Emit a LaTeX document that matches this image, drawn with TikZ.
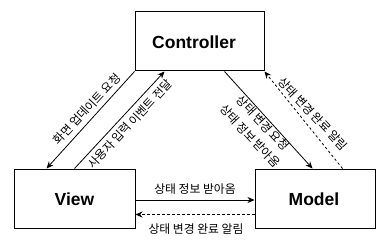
\documentclass[tikz,border=0pt]{standalone}
\usepackage{fontspec}
\setmainfont{Liberation Sans}
\newfontfamily\kr{Noto Sans CJK KR}
\usetikzlibrary{arrows.meta}
\begin{document}
\begin{tikzpicture}[x=1pt,y=-1pt,
  box/.style={draw=black,line width=1pt,minimum width=120pt,minimum height=59pt,inner sep=0pt},
  title/.style={font=\fontsize{17.5}{20}\selectfont\bfseries},
  lbl/.style={font=\kr\fontsize{11.8}{13}\selectfont,inner sep=0pt},
  conn/.style={line width=0.8pt,-{Stealth[length=7pt,width=6pt]}},
  dconn/.style={conn,dash pattern=on 2.5pt off 2.5pt}]
\useasboundingbox (0,0) rectangle (385,243);
\node[box,minimum width=129pt] (ctrl) at (199.5,41.5) {};
\node[box,minimum width=121pt] (view) at (74.5,198.5) {};
\node[box] (model) at (315,198.5) {};
\node[title] (tc) at (194,42) {Controller};
\node[title] (tv) at (74.5,199) {View};
\node[title] (tm) at (314,199) {Model};
% connectors
\draw[conn] (ctrl.south west) -- ([xshift=33pt]view.north west);
\draw[conn] ([xshift=61pt]view.north west) -- ([xshift=30pt]ctrl.south west);
\draw[conn] ([xshift=90pt]ctrl.south west) -- ([xshift=58pt]model.north west);
\draw[dconn] ([xshift=88pt]model.north west) -- (ctrl.south east);
\draw[conn] ([yshift=-1.5pt]view.east) -- ([yshift=-1.5pt]model.west);
\draw[dconn] ([yshift=-16pt]model.west) -- ([yshift=-16pt]view.east);
% labels
\node[lbl,rotate=47] (l1) at (87,109) {화면 업데이트 요청};
\node[lbl,rotate=47] (l2) at (130,124) {사용자 입력 이벤트 전달};
\node[lbl,rotate=-47] (r1) at (263,123) {상태 변경 요청};
\node[lbl,rotate=-47] (r2) at (250,136) {상태 정보 받아옴};
\node[lbl,rotate=-47] (r3) at (313,114) {상태 변경 완료 알림};
\node[lbl] (b1) at (195,189) {상태 정보 받아옴};
\node[lbl] (b2) at (196,229) {상태 변경 완료 알림};
\end{tikzpicture}
\end{document}
